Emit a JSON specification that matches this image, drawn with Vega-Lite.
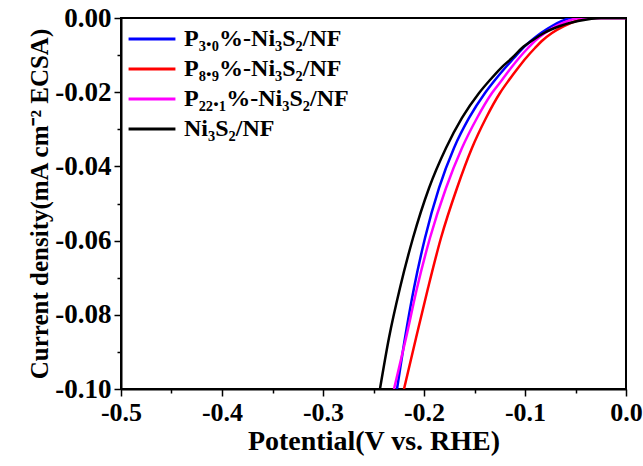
{
  "$schema": "https://vega.github.io/schema/vega-lite/v6.json",
  "width": 505,
  "height": 371,
  "autosize": {"type": "none"},
  "padding": {"left": 121, "top": 18, "right": 17, "bottom": 77},
  "background": "white",
  "config": {
    "view": {"stroke": "black", "strokeWidth": 2},
    "font": "Liberation Serif",
    "axis": {
      "grid": false,
      "domainColor": "black",
      "domainWidth": 2,
      "tickColor": "black",
      "tickWidth": 1.5,
      "labelFont": "Liberation Serif",
      "labelFontWeight": "bold",
      "labelColor": "black",
      "titleFont": "Liberation Serif",
      "titleFontWeight": "bold",
      "titleColor": "black"
    }
  },
  "data": {
    "values": [
      {"series": "P₃.₀%-Ni₃S₂/NF", "v": -0.2267, "j": -0.1},
      {"series": "P₃.₀%-Ni₃S₂/NF", "v": -0.2188, "j": -0.08625},
      {"series": "P₃.₀%-Ni₃S₂/NF", "v": -0.2099, "j": -0.07278},
      {"series": "P₃.₀%-Ni₃S₂/NF", "v": -0.199, "j": -0.0593},
      {"series": "P₃.₀%-Ni₃S₂/NF", "v": -0.1851, "j": -0.04582},
      {"series": "P₃.₀%-Ni₃S₂/NF", "v": -0.1703, "j": -0.03504},
      {"series": "P₃.₀%-Ni₃S₂/NF", "v": -0.1554, "j": -0.02695},
      {"series": "P₃.₀%-Ni₃S₂/NF", "v": -0.1396, "j": -0.02022},
      {"series": "P₃.₀%-Ni₃S₂/NF", "v": -0.1297, "j": -0.01671},
      {"series": "P₃.₀%-Ni₃S₂/NF", "v": -0.1198, "j": -0.01348},
      {"series": "P₃.₀%-Ni₃S₂/NF", "v": -0.1109, "j": -0.01078},
      {"series": "P₃.₀%-Ni₃S₂/NF", "v": -0.102, "j": -0.00809},
      {"series": "P₃.₀%-Ni₃S₂/NF", "v": -0.0931, "j": -0.00593},
      {"series": "P₃.₀%-Ni₃S₂/NF", "v": -0.0842, "j": -0.00404},
      {"series": "P₃.₀%-Ni₃S₂/NF", "v": -0.0733, "j": -0.00216},
      {"series": "P₃.₀%-Ni₃S₂/NF", "v": -0.0634, "j": -0.00081},
      {"series": "P₃.₀%-Ni₃S₂/NF", "v": -0.0545, "j": 0},
      {"series": "P₃.₀%-Ni₃S₂/NF", "v": 0, "j": 0},

      {"series": "P₈.₉%-Ni₃S₂/NF", "v": -0.2198, "j": -0.1},
      {"series": "P₈.₉%-Ni₃S₂/NF", "v": -0.2079, "j": -0.08625},
      {"series": "P₈.₉%-Ni₃S₂/NF", "v": -0.196, "j": -0.07278},
      {"series": "P₈.₉%-Ni₃S₂/NF", "v": -0.1832, "j": -0.0593},
      {"series": "P₈.₉%-Ni₃S₂/NF", "v": -0.1673, "j": -0.04582},
      {"series": "P₈.₉%-Ni₃S₂/NF", "v": -0.1525, "j": -0.03504},
      {"series": "P₈.₉%-Ni₃S₂/NF", "v": -0.1386, "j": -0.02695},
      {"series": "P₈.₉%-Ni₃S₂/NF", "v": -0.1248, "j": -0.02022},
      {"series": "P₈.₉%-Ni₃S₂/NF", "v": -0.1158, "j": -0.01671},
      {"series": "P₈.₉%-Ni₃S₂/NF", "v": -0.1069, "j": -0.01348},
      {"series": "P₈.₉%-Ni₃S₂/NF", "v": -0.099, "j": -0.01078},
      {"series": "P₈.₉%-Ni₃S₂/NF", "v": -0.0901, "j": -0.00809},
      {"series": "P₈.₉%-Ni₃S₂/NF", "v": -0.0822, "j": -0.00593},
      {"series": "P₈.₉%-Ni₃S₂/NF", "v": -0.0733, "j": -0.00404},
      {"series": "P₈.₉%-Ni₃S₂/NF", "v": -0.0614, "j": -0.00216},
      {"series": "P₈.₉%-Ni₃S₂/NF", "v": -0.0495, "j": -0.00081},
      {"series": "P₈.₉%-Ni₃S₂/NF", "v": -0.0376, "j": 0},
      {"series": "P₈.₉%-Ni₃S₂/NF", "v": 0, "j": 0},

      {"series": "P₂₂.₁%-Ni₃S₂/NF", "v": -0.2297, "j": -0.1},
      {"series": "P₂₂.₁%-Ni₃S₂/NF", "v": -0.2178, "j": -0.08625},
      {"series": "P₂₂.₁%-Ni₃S₂/NF", "v": -0.2069, "j": -0.07278},
      {"series": "P₂₂.₁%-Ni₃S₂/NF", "v": -0.1941, "j": -0.0593},
      {"series": "P₂₂.₁%-Ni₃S₂/NF", "v": -0.1782, "j": -0.04582},
      {"series": "P₂₂.₁%-Ni₃S₂/NF", "v": -0.1624, "j": -0.03504},
      {"series": "P₂₂.₁%-Ni₃S₂/NF", "v": -0.1475, "j": -0.02695},
      {"series": "P₂₂.₁%-Ni₃S₂/NF", "v": -0.1327, "j": -0.02022},
      {"series": "P₂₂.₁%-Ni₃S₂/NF", "v": -0.1228, "j": -0.01671},
      {"series": "P₂₂.₁%-Ni₃S₂/NF", "v": -0.1139, "j": -0.01348},
      {"series": "P₂₂.₁%-Ni₃S₂/NF", "v": -0.1059, "j": -0.01078},
      {"series": "P₂₂.₁%-Ni₃S₂/NF", "v": -0.097, "j": -0.00809},
      {"series": "P₂₂.₁%-Ni₃S₂/NF", "v": -0.0891, "j": -0.00593},
      {"series": "P₂₂.₁%-Ni₃S₂/NF", "v": -0.0802, "j": -0.00404},
      {"series": "P₂₂.₁%-Ni₃S₂/NF", "v": -0.0693, "j": -0.00216},
      {"series": "P₂₂.₁%-Ni₃S₂/NF", "v": -0.0574, "j": -0.00081},
      {"series": "P₂₂.₁%-Ni₃S₂/NF", "v": -0.0465, "j": 0},
      {"series": "P₂₂.₁%-Ni₃S₂/NF", "v": 0, "j": 0},

      {"series": "Ni₃S₂/NF", "v": -0.2436, "j": -0.1},
      {"series": "Ni₃S₂/NF", "v": -0.2347, "j": -0.08625},
      {"series": "Ni₃S₂/NF", "v": -0.2238, "j": -0.07278},
      {"series": "Ni₃S₂/NF", "v": -0.2109, "j": -0.0593},
      {"series": "Ni₃S₂/NF", "v": -0.195, "j": -0.04582},
      {"series": "Ni₃S₂/NF", "v": -0.1782, "j": -0.03504},
      {"series": "Ni₃S₂/NF", "v": -0.1624, "j": -0.02695},
      {"series": "Ni₃S₂/NF", "v": -0.1455, "j": -0.02022},
      {"series": "Ni₃S₂/NF", "v": -0.1347, "j": -0.01671},
      {"series": "Ni₃S₂/NF", "v": -0.1238, "j": -0.01348},
      {"series": "Ni₃S₂/NF", "v": -0.1129, "j": -0.01078},
      {"series": "Ni₃S₂/NF", "v": -0.103, "j": -0.00809},
      {"series": "Ni₃S₂/NF", "v": -0.0921, "j": -0.00593},
      {"series": "Ni₃S₂/NF", "v": -0.0812, "j": -0.00404},
      {"series": "Ni₃S₂/NF", "v": -0.0653, "j": -0.00216},
      {"series": "Ni₃S₂/NF", "v": -0.0475, "j": -0.00081},
      {"series": "Ni₃S₂/NF", "v": -0.0356, "j": -0.00027},
      {"series": "Ni₃S₂/NF", "v": -0.0248, "j": 0},
      {"series": "Ni₃S₂/NF", "v": 0, "j": 0}
    ]
  },
  "mark": {"type": "line", "strokeWidth": 2.5, "clip": true, "interpolate": "monotone"},
  "encoding": {
    "x": {
      "field": "v",
      "type": "quantitative",
      "scale": {"domain": [-0.5, 0], "nice": false},
      "axis": {
        "title": "Potential(V vs. RHE)",
        "titleFontSize": 28,
        "titlePadding": 2,
        "labelFontSize": 26,
        "values": [-0.5, -0.45, -0.4, -0.35, -0.3, -0.25, -0.2, -0.15, -0.1, -0.05, 0],
        "labelExpr": "abs(datum.value*10 - round(datum.value*10)) < 0.001 ? replace(format(datum.value, '.1f'), '\u2212', '-') : ''",
        "tickSize": {"condition": {"test": "abs(datum.value*10 - round(datum.value*10)) < 0.001", "value": 7}, "value": 4},
        "labelPadding": 3,
        "labelFlush": false,
        "labelOverlap": false
      }
    },
    "y": {
      "field": "j",
      "type": "quantitative",
      "scale": {"domain": [-0.1, 0], "nice": false},
      "axis": {
        "title": "Current density(mA cm⁻² ECSA)",
        "titleFontSize": 25,
        "titlePadding": 2,
        "labelFontSize": 27,
        "values": [-0.1, -0.09, -0.08, -0.07, -0.06, -0.05, -0.04, -0.03, -0.02, -0.01, 0],
        "labelExpr": "abs(datum.value*50 - round(datum.value*50)) < 0.001 ? replace(format(datum.value, '.2f'), '\u2212', '-') : ''",
        "tickSize": {"condition": {"test": "abs(datum.value*50 - round(datum.value*50)) < 0.001", "value": 7}, "value": 4},
        "labelPadding": 3,
        "labelFlush": false,
        "labelOverlap": false
      }
    },
    "color": {
      "field": "series",
      "type": "nominal",
      "scale": {
        "domain": ["P₃.₀%-Ni₃S₂/NF", "P₈.₉%-Ni₃S₂/NF", "P₂₂.₁%-Ni₃S₂/NF", "Ni₃S₂/NF"],
        "range": ["#0000ff", "#ff0000", "#ff00ff", "#000000"]
      },
      "legend": {
        "title": null,
        "orient": "none",
        "legendX": 13,
        "legendY": 3,
        "symbolType": "M-1.42,0H1.42",
        "symbolSize": 1089,
        "symbolStrokeWidth": 3,
        "symbolFillColor": "transparent",
        "labelFont": "Liberation Serif",
        "labelFontWeight": "bold",
        "labelFontSize": 24,
        "labelColor": "black",
        "labelLimit": 400,
        "labelOffset": 14,
        "rowPadding": 0
      }
    }
  }
}
